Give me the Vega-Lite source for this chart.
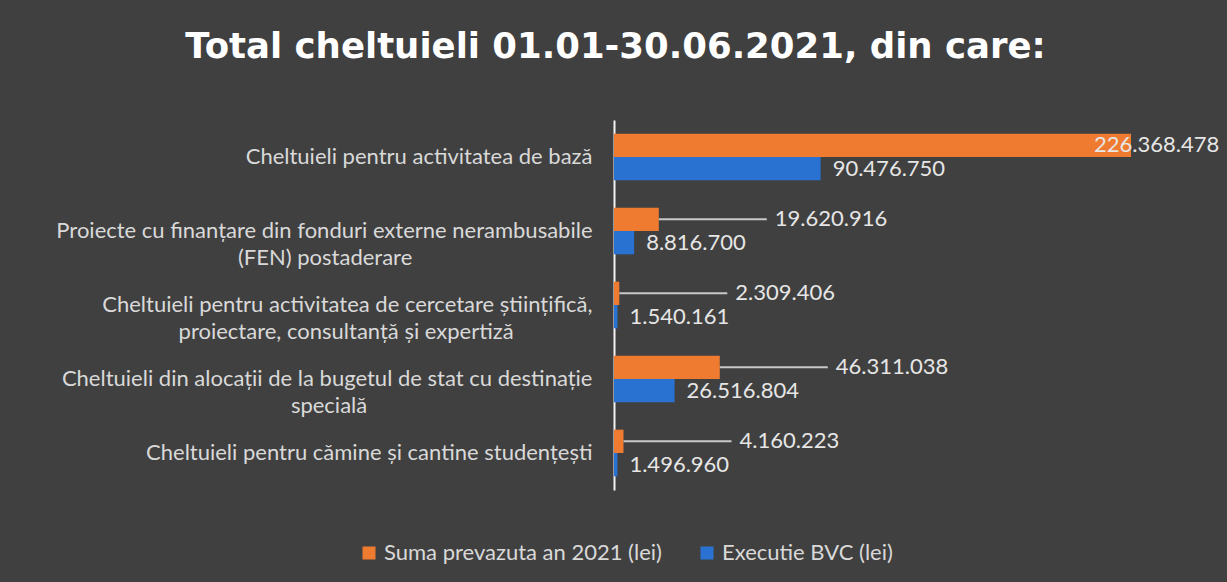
{
  "$schema": "https://vega.github.io/schema/vega-lite/v6.json",
  "autosize": {"type": "none"},
  "width": 571,
  "height": 370,
  "padding": {"left": 614, "top": 120, "right": 42, "bottom": 92},
  "background": "#404040",
  "config": {
    "view": {"stroke": null},
    "font": "Lato",
    "locale": {"number": {"decimal": ",", "thousands": ".", "grouping": [3], "currency": ["", ""]}}
  },
  "title": {
    "text": "Total cheltuieli 01.01-30.06.2021, din care:",
    "font": "DejaVu Sans",
    "fontSize": 35.5,
    "fontWeight": "bold",
    "color": "#ffffff",
    "anchor": "middle",
    "frame": "group",
    "dx": -284,
    "offset": 27,
    "baseline": "alphabetic"
  },
  "data": {
    "values": [
      {"cat": "Cheltuieli pentru activitatea de bază", "series": "Suma prevazuta an 2021 (lei)", "value": 226368478},
      {"cat": "Cheltuieli pentru activitatea de bază", "series": "Executie BVC (lei)", "value": 90476750},
      {"cat": "Proiecte cu finanțare din fonduri externe nerambusabile|(FEN) postaderare\u00a0\u00a0\u00a0\u00a0\u00a0\u00a0\u00a0\u00a0\u00a0\u00a0\u00a0\u00a0\u00a0\u00a0\u00a0\u00a0\u00a0\u00a0\u00a0\u00a0\u00a0\u00a0\u00a0\u00a0\u00a0\u00a0\u00a0\u00a0\u00a0\u00a0\u00a0\u00a0\u200b", "series": "Suma prevazuta an 2021 (lei)", "value": 19620916},
      {"cat": "Proiecte cu finanțare din fonduri externe nerambusabile|(FEN) postaderare\u00a0\u00a0\u00a0\u00a0\u00a0\u00a0\u00a0\u00a0\u00a0\u00a0\u00a0\u00a0\u00a0\u00a0\u00a0\u00a0\u00a0\u00a0\u00a0\u00a0\u00a0\u00a0\u00a0\u00a0\u00a0\u00a0\u00a0\u00a0\u00a0\u00a0\u00a0\u00a0\u200b", "series": "Executie BVC (lei)", "value": 8816700},
      {"cat": "Cheltuieli pentru activitatea de cercetare științifică,|proiectare, consultanță și expertiză\u00a0\u00a0\u00a0\u00a0\u00a0\u00a0\u00a0\u00a0\u00a0\u00a0\u00a0\u00a0\u00a0\u00a0\u200b", "series": "Suma prevazuta an 2021 (lei)", "value": 2309406},
      {"cat": "Cheltuieli pentru activitatea de cercetare științifică,|proiectare, consultanță și expertiză\u00a0\u00a0\u00a0\u00a0\u00a0\u00a0\u00a0\u00a0\u00a0\u00a0\u00a0\u00a0\u00a0\u00a0\u200b", "series": "Executie BVC (lei)", "value": 1540161},
      {"cat": "Cheltuieli din alocații de la bugetul de stat cu destinație|specială\u00a0\u00a0\u00a0\u00a0\u00a0\u00a0\u00a0\u00a0\u00a0\u00a0\u00a0\u00a0\u00a0\u00a0\u00a0\u00a0\u00a0\u00a0\u00a0\u00a0\u00a0\u00a0\u00a0\u00a0\u00a0\u00a0\u00a0\u00a0\u00a0\u00a0\u00a0\u00a0\u00a0\u00a0\u00a0\u00a0\u00a0\u00a0\u00a0\u00a0\u200b", "series": "Suma prevazuta an 2021 (lei)", "value": 46311038},
      {"cat": "Cheltuieli din alocații de la bugetul de stat cu destinație|specială\u00a0\u00a0\u00a0\u00a0\u00a0\u00a0\u00a0\u00a0\u00a0\u00a0\u00a0\u00a0\u00a0\u00a0\u00a0\u00a0\u00a0\u00a0\u00a0\u00a0\u00a0\u00a0\u00a0\u00a0\u00a0\u00a0\u00a0\u00a0\u00a0\u00a0\u00a0\u00a0\u00a0\u00a0\u00a0\u00a0\u00a0\u00a0\u00a0\u00a0\u200b", "series": "Executie BVC (lei)", "value": 26516804},
      {"cat": "Cheltuieli pentru  cămine și cantine studențești", "series": "Suma prevazuta an 2021 (lei)", "value": 4160223},
      {"cat": "Cheltuieli pentru  cămine și cantine studențești", "series": "Executie BVC (lei)", "value": 1496960}
    ]
  },
  "encoding": {
    "y": {
      "field": "cat",
      "type": "nominal",
      "sort": null,
      "scale": {"paddingInner": 0.37, "paddingOuter": 0.185},
      "axis": {
        "title": null,
        "domainColor": "#f2f2f2",
        "domainWidth": 2,
        "ticks": false,
        "labelFont": "Lato",
        "labelFontSize": 22,
        "labelColor": "#d9d9d9",
        "labelPadding": 22,
        "labelLimit": 800,
        "labelExpr": "split(datum.label, '|')",
        "labelLineHeight": 27,
        "labelBaseline": "middle"
      }
    },
    "yOffset": {
      "field": "series",
      "type": "nominal",
      "sort": ["Suma prevazuta an 2021 (lei)", "Executie BVC (lei)"]
    },
    "x": {
      "field": "value",
      "type": "quantitative",
      "scale": {"domain": [0, 250000000], "nice": false},
      "axis": null
    }
  },
  "layer": [
    {
      "mark": {"type": "bar"},
      "encoding": {
        "color": {
          "field": "series",
          "type": "nominal",
          "scale": {"domain": ["Suma prevazuta an 2021 (lei)", "Executie BVC (lei)"], "range": ["#ef7b30", "#2a72d2"]},
          "legend": {
            "orient": "none",
            "legendX": -256,
            "legendY": 422,
            "direction": "horizontal",
            "title": null,
            "symbolType": "square",
            "symbolSize": 169,
            "symbolStrokeWidth": 0,
            "labelFont": "Lato",
            "labelFontSize": 22,
            "labelLimit": 500,
            "labelColor": "#d9d9d9",
            "columnPadding": 34,
            "labelOffset": 4
          }
        }
      }
    },
    {
      "transform": [{"filter": "datum.series === 'Suma prevazuta an 2021 (lei)' && datum.value < 100000000"}],
      "mark": {"type": "rule", "x2Offset": 108, "color": "#c8c8c8", "strokeWidth": 2},
      "encoding": {"x2": {"field": "value"}}
    },
    {
      "transform": [{"filter": "datum.series === 'Suma prevazuta an 2021 (lei)' && datum.value < 100000000"}],
      "mark": {"type": "text", "align": "left", "baseline": "middle", "dx": 116, "fontSize": 22, "color": "#e6e6e6", "font": "Lato"},
      "encoding": {"text": {"field": "value", "type": "quantitative", "format": ",d"}}
    },
    {
      "transform": [{"filter": "datum.series === 'Suma prevazuta an 2021 (lei)' && datum.value >= 100000000"}],
      "mark": {"type": "text", "align": "left", "baseline": "middle", "dx": -37, "fontSize": 22, "color": "#e6e6e6", "font": "Lato"},
      "encoding": {"text": {"field": "value", "type": "quantitative", "format": ",d"}}
    },
    {
      "transform": [{"filter": "datum.series === 'Executie BVC (lei)'"}],
      "mark": {"type": "text", "align": "left", "baseline": "middle", "dx": 12, "fontSize": 22, "color": "#e6e6e6", "font": "Lato"},
      "encoding": {"text": {"field": "value", "type": "quantitative", "format": ",d"}}
    }
  ]
}
